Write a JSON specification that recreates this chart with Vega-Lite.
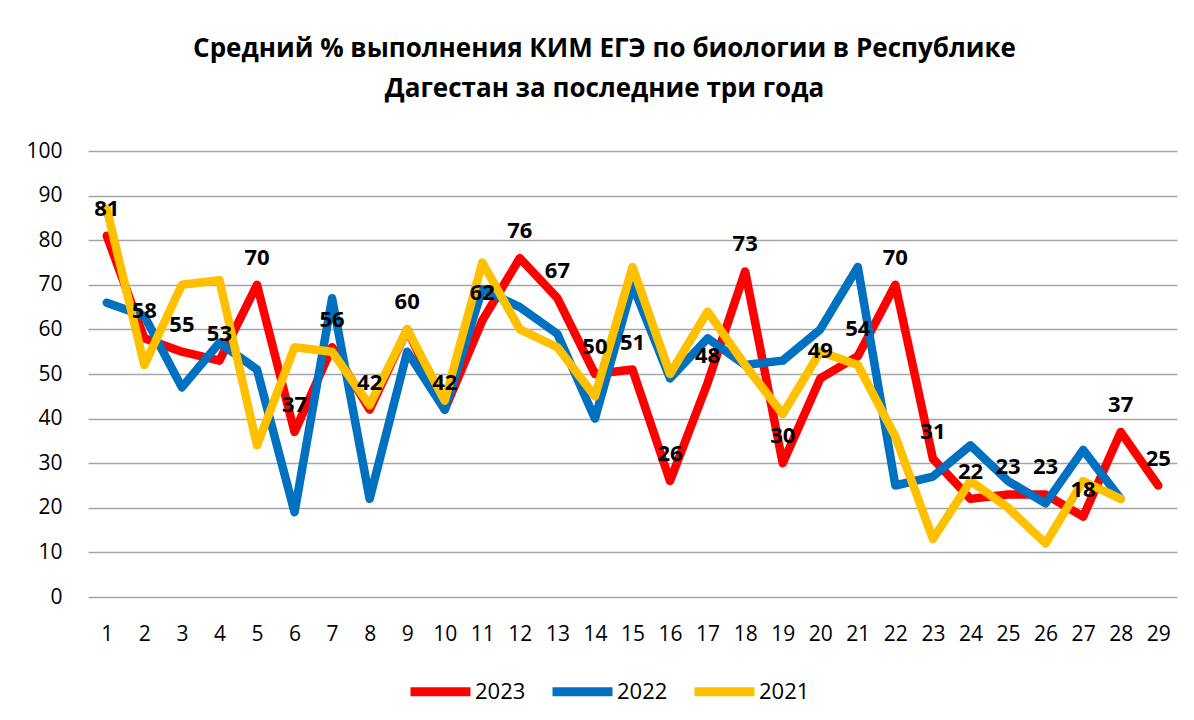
{
  "$schema": "https://vega.github.io/schema/vega-lite/v6.json",
  "width": 1089,
  "height": 446,
  "autosize": {"type": "none"},
  "padding": {"left": 88, "top": 151, "right": 17, "bottom": 123},
  "background": "white",
  "config": {
    "font": "Open Sans",
    "view": {"stroke": null},
    "axis": {"labelFont": "Open Sans", "labelFontSize": 21, "labelColor": "#000000"}
  },
  "title": {
    "text": ["Средний % выполнения КИМ ЕГЭ по биологии в Республике", "Дагестан за последние три года"],
    "font": "Open Sans",
    "fontSize": 26,
    "fontWeight": "bold",
    "color": "#000000",
    "lineHeight": 40,
    "anchor": "middle",
    "offset": 38,
    "dx": -28
  },
  "data": {
    "values": [
      {"n": 1, "year": "2023", "v": 81}, {"n": 2, "year": "2023", "v": 58}, {"n": 3, "year": "2023", "v": 55}, {"n": 4, "year": "2023", "v": 53}, {"n": 5, "year": "2023", "v": 70}, {"n": 6, "year": "2023", "v": 37}, {"n": 7, "year": "2023", "v": 56}, {"n": 8, "year": "2023", "v": 42}, {"n": 9, "year": "2023", "v": 60}, {"n": 10, "year": "2023", "v": 42},
      {"n": 11, "year": "2023", "v": 62}, {"n": 12, "year": "2023", "v": 76}, {"n": 13, "year": "2023", "v": 67}, {"n": 14, "year": "2023", "v": 50}, {"n": 15, "year": "2023", "v": 51}, {"n": 16, "year": "2023", "v": 26}, {"n": 17, "year": "2023", "v": 48}, {"n": 18, "year": "2023", "v": 73}, {"n": 19, "year": "2023", "v": 30}, {"n": 20, "year": "2023", "v": 49},
      {"n": 21, "year": "2023", "v": 54}, {"n": 22, "year": "2023", "v": 70}, {"n": 23, "year": "2023", "v": 31}, {"n": 24, "year": "2023", "v": 22}, {"n": 25, "year": "2023", "v": 23}, {"n": 26, "year": "2023", "v": 23}, {"n": 27, "year": "2023", "v": 18}, {"n": 28, "year": "2023", "v": 37}, {"n": 29, "year": "2023", "v": 25},
      {"n": 1, "year": "2022", "v": 66}, {"n": 2, "year": "2022", "v": 63}, {"n": 3, "year": "2022", "v": 47}, {"n": 4, "year": "2022", "v": 57}, {"n": 5, "year": "2022", "v": 51}, {"n": 6, "year": "2022", "v": 19}, {"n": 7, "year": "2022", "v": 67}, {"n": 8, "year": "2022", "v": 22}, {"n": 9, "year": "2022", "v": 55}, {"n": 10, "year": "2022", "v": 42},
      {"n": 11, "year": "2022", "v": 69}, {"n": 12, "year": "2022", "v": 65}, {"n": 13, "year": "2022", "v": 59}, {"n": 14, "year": "2022", "v": 40}, {"n": 15, "year": "2022", "v": 70}, {"n": 16, "year": "2022", "v": 49}, {"n": 17, "year": "2022", "v": 58}, {"n": 18, "year": "2022", "v": 52}, {"n": 19, "year": "2022", "v": 53}, {"n": 20, "year": "2022", "v": 60},
      {"n": 21, "year": "2022", "v": 74}, {"n": 22, "year": "2022", "v": 25}, {"n": 23, "year": "2022", "v": 27}, {"n": 24, "year": "2022", "v": 34}, {"n": 25, "year": "2022", "v": 26}, {"n": 26, "year": "2022", "v": 21}, {"n": 27, "year": "2022", "v": 33}, {"n": 28, "year": "2022", "v": 22},
      {"n": 1, "year": "2021", "v": 87}, {"n": 2, "year": "2021", "v": 52}, {"n": 3, "year": "2021", "v": 70}, {"n": 4, "year": "2021", "v": 71}, {"n": 5, "year": "2021", "v": 34}, {"n": 6, "year": "2021", "v": 56}, {"n": 7, "year": "2021", "v": 55}, {"n": 8, "year": "2021", "v": 43}, {"n": 9, "year": "2021", "v": 60}, {"n": 10, "year": "2021", "v": 44},
      {"n": 11, "year": "2021", "v": 75}, {"n": 12, "year": "2021", "v": 60}, {"n": 13, "year": "2021", "v": 56}, {"n": 14, "year": "2021", "v": 45}, {"n": 15, "year": "2021", "v": 74}, {"n": 16, "year": "2021", "v": 50}, {"n": 17, "year": "2021", "v": 64}, {"n": 18, "year": "2021", "v": 52}, {"n": 19, "year": "2021", "v": 41}, {"n": 20, "year": "2021", "v": 55},
      {"n": 21, "year": "2021", "v": 52}, {"n": 22, "year": "2021", "v": 36}, {"n": 23, "year": "2021", "v": 13}, {"n": 24, "year": "2021", "v": 26}, {"n": 25, "year": "2021", "v": 20}, {"n": 26, "year": "2021", "v": 12}, {"n": 27, "year": "2021", "v": 26}, {"n": 28, "year": "2021", "v": 22}
    ]
  },
  "encoding": {
    "x": {
      "field": "n", "type": "ordinal",
      "scale": {"type": "point", "padding": 0.5},
      "axis": {"title": null, "labelAngle": 0, "domain": false, "ticks": false, "grid": false, "labelPadding": 26}
    },
    "y": {
      "field": "v", "type": "quantitative",
      "scale": {"domain": [0, 100], "nice": false},
      "axis": {"title": null, "values": [0, 10, 20, 30, 40, 50, 60, 70, 80, 90, 100], "domain": false, "ticks": false, "gridColor": "#a6a6a6", "gridWidth": 1.5, "labelPadding": 26}
    }
  },
  "layer": [
    {
      "transform": [{"filter": "datum.year === '2023'"}],
      "mark": {"type": "line", "strokeWidth": 8.5, "strokeCap": "round", "strokeJoin": "round"},
      "encoding": {
        "color": {
          "field": "year", "type": "nominal",
          "scale": {"domain": ["2023", "2022", "2021"], "range": ["#ff0000", "#0070c0", "#ffc000"]},
          "legend": {
            "title": null, "orient": "none", "legendX": 318, "legendY": 506, "direction": "horizontal",
            "symbolType": "stroke", "symbolSize": 3600, "symbolStrokeWidth": 9,
            "labelFont": "Open Sans", "labelFontSize": 22, "labelColor": "#000000", "labelOffset": 0, "columnPadding": 8
          }
        }
      }
    },
    {
      "transform": [{"filter": "datum.year === '2022'"}],
      "mark": {"type": "line", "strokeWidth": 8.5, "strokeCap": "round", "strokeJoin": "round"},
      "encoding": {"color": {"field": "year", "type": "nominal"}}
    },
    {
      "transform": [{"filter": "datum.year === '2021'"}],
      "mark": {"type": "line", "strokeWidth": 8.5, "strokeCap": "round", "strokeJoin": "round"},
      "encoding": {"color": {"field": "year", "type": "nominal"}}
    },
    {
      "transform": [{"filter": "datum.year === '2023'"}],
      "mark": {"type": "text", "dy": -27, "baseline": "middle", "font": "Open Sans", "fontSize": 22, "fontWeight": "bold", "color": "#000000"},
      "encoding": {"text": {"field": "v", "type": "quantitative"}}
    }
  ]
}
